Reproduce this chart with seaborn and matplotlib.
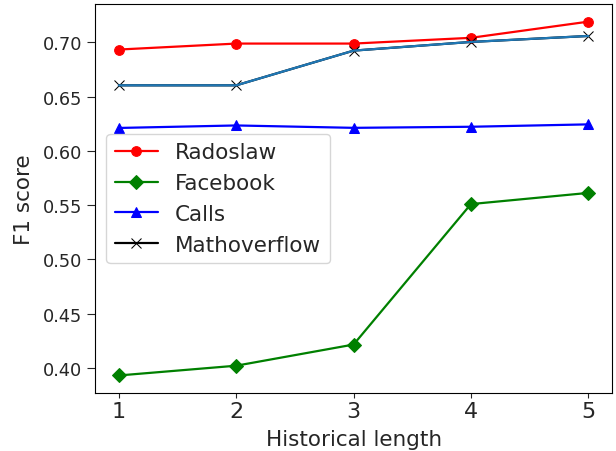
import matplotlib
matplotlib.use("Agg")
import matplotlib.pyplot as plt
import seaborn as sns

# historical length on x axis
hist_len = [1, 2, 3, 4, 5]
radoslaw = [0.6935, 0.699, 0.699, 0.7043, 0.7192]
facebook = [0.393, 0.402, 0.4215, 0.551, 0.5613]
calls = [0.6212, 0.6235, 0.6213, 0.6223, 0.6245]
mathoverflow = [0.6605, 0.6605, 0.6925, 0.7005, 0.706]

sns.set_style("ticks")
plt.rcParams['font.family'] = ['DejaVu Sans']

fig = plt.figure(figsize=(6.16, 4.52), dpi=100)
ax = fig.add_axes([0.155, 0.128, 0.838, 0.861])

sns.lineplot(x=hist_len, y=radoslaw, ax=ax, color="red", marker="o",
             markersize=7, markeredgecolor="red", linewidth=1.6, label="Radoslaw")
sns.lineplot(x=hist_len, y=facebook, ax=ax, color="green", marker="D",
             markersize=7, markeredgecolor="green", linewidth=1.6, label="Facebook")
sns.lineplot(x=hist_len, y=calls, ax=ax, color="blue", marker="^",
             markersize=7, markeredgecolor="blue", linewidth=1.6, label="Calls")
sns.lineplot(x=hist_len, y=mathoverflow, ax=ax, color="black", marker="x",
             markersize=7, markeredgecolor="black", linewidth=1.6, label="Mathoverflow")
# the second (default colour) line drawn over the black one
ax.plot(hist_len, mathoverflow, color="tab:blue", linewidth=1.6)

ax.set_xlabel("Historical length", fontsize=15.5, labelpad=6)
ax.set_ylabel("F1 score", fontsize=15.5, labelpad=6.5)
ax.set_xticks(hist_len)
ax.tick_params(axis="x", labelsize=16, length=3.5, pad=2)
ax.tick_params(axis="y", labelsize=12.8, length=5.5, pad=4)
ax.set_yticks([0.40, 0.45, 0.50, 0.55, 0.60, 0.65, 0.70])
ax.set_yticklabels(["0.40", "0.45", "0.50", "0.55", "0.60", "0.65", "0.70"])
for s in ax.spines.values():
    s.set_visible(True)
    s.set_color("black")

handles, labels = ax.get_legend_handles_labels()
ax.legend(handles[:4], labels[:4], loc="center left", fontsize=15.5)

fig.savefig("out.png", dpi=100)
